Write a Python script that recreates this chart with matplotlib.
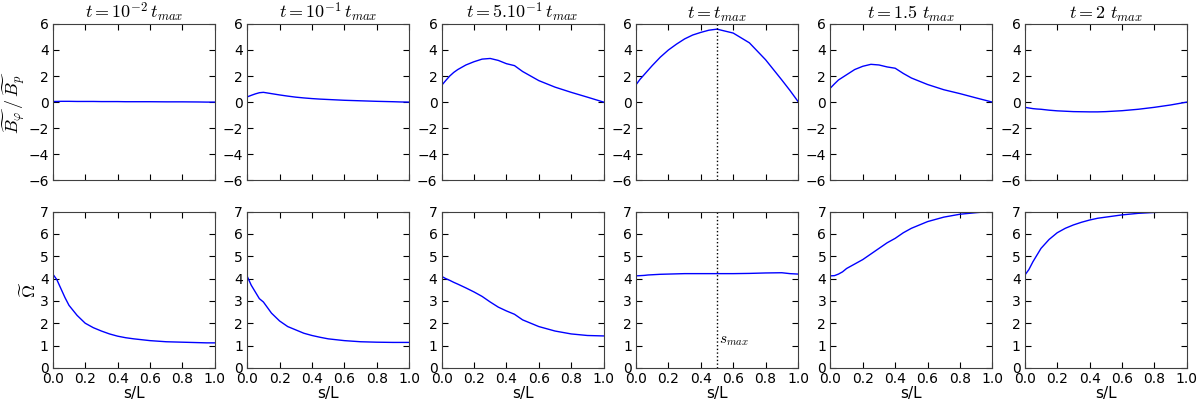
import numpy as np
import matplotlib
matplotlib.use('Agg')
import matplotlib.pyplot as plt

plt.rcParams['mathtext.fontset'] = 'cm'
plt.rcParams['font.size'] = 10

# positions along the loop (s/L)
s = [0, .025, .05, .075, .1, .15, .2, .25, .3, .35, .4, .45, .5, .6, .7, .8, .9, .95, 1.0]

titles = [r'$t=10^{-2}\,t_{max}$', r'$t=10^{-1}\,t_{max}$', r'$t=5.10^{-1}\,t_{max}$',
          r'$t=t_{max}$', r'$t=1.5\ t_{max}$', r'$t=2\ t_{max}$']

# B_phi / B_p
b1 = [0.05, 0.05, 0.06, 0.06, 0.06, 0.05, 0.05, 0.05, 0.04, 0.04, 0.04, 0.03, 0.03, 0.03, 0.02, 0.02, 0.01, 0.0, 0.0]
b2 = [0.4, 0.52, 0.63, 0.72, 0.75, 0.65, 0.55, 0.46, 0.38, 0.32, 0.27, 0.23, 0.2, 0.14, 0.1, 0.06, 0.03, 0.01, 0.0]
b3 = [1.28, 1.65, 2.0, 2.28, 2.5, 2.85, 3.1, 3.3, 3.35, 3.2, 2.95, 2.8, 2.35, 1.65, 1.15, 0.75, 0.38, 0.19, 0.0]
b4 = [1.33, 1.75, 2.1, 2.45, 2.8, 3.45, 4.0, 4.45, 4.85, 5.15, 5.35, 5.52, 5.6, 5.3, 4.55, 3.25, 1.7, 0.9, 0.05]
b5 = [1.08, 1.4, 1.7, 1.9, 2.1, 2.5, 2.75, 2.9, 2.85, 2.7, 2.6, 2.2, 1.85, 1.35, 0.95, 0.65, 0.32, 0.16, 0.0]
b6 = [-0.4, -0.45, -0.5, -0.53, -0.55, -0.62, -0.67, -0.7, -0.73, -0.74, -0.75, -0.75, -0.73, -0.66, -0.55, -0.4, -0.22, -0.11, 0.0]

# Omega
o1 = [4.2, 3.95, 3.55, 3.15, 2.8, 2.35, 2.0, 1.8, 1.65, 1.52, 1.42, 1.35, 1.3, 1.22, 1.17, 1.15, 1.13, 1.12, 1.12]
o2 = [4.1, 3.7, 3.4, 3.1, 2.95, 2.45, 2.1, 1.85, 1.7, 1.55, 1.45, 1.37, 1.3, 1.22, 1.17, 1.15, 1.14, 1.14, 1.14]
o3 = [4.1, 4.0, 3.92, 3.83, 3.75, 3.58, 3.4, 3.2, 2.95, 2.72, 2.55, 2.4, 2.15, 1.85, 1.65, 1.52, 1.45, 1.44, 1.43]
o4 = [4.12, 4.13, 4.14, 4.16, 4.17, 4.19, 4.2, 4.21, 4.22, 4.22, 4.22, 4.22, 4.22, 4.22, 4.23, 4.25, 4.26, 4.22, 4.2]
o5 = [4.12, 4.13, 4.2, 4.3, 4.45, 4.65, 4.85, 5.1, 5.35, 5.6, 5.8, 6.05, 6.25, 6.55, 6.75, 6.88, 6.95, 6.98, 7.0]
o6 = [4.15, 4.4, 4.75, 5.05, 5.35, 5.75, 6.05, 6.25, 6.4, 6.52, 6.62, 6.7, 6.75, 6.85, 6.92, 6.96, 6.98, 6.99, 7.0]

bphi = [b1, b2, b3, b4, b5, b6]
omega = [o1, o2, o3, o4, o5, o6]
s_max = 0.5

fig, axes = plt.subplots(2, 6, figsize=(12, 3.99), dpi=100)
fig.subplots_adjust(left=0.044, right=0.989, top=0.94, bottom=0.078, wspace=0.2, hspace=0.2)

for i in range(6):
    ax = axes[0, i]
    ax.plot(s, bphi[i], color='b', lw=1)
    ax.set_xlim(0, 1)
    ax.set_ylim(-6, 6)
    ax.set_yticks([-6, -4, -2, 0, 2, 4, 6])
    ax.set_xticks([0, 0.2, 0.4, 0.6, 0.8, 1.0])
    ax.set_xticklabels([])
    ax.set_title(titles[i], fontsize=13, pad=2)

    ax = axes[1, i]
    ax.plot(s, omega[i], color='b', lw=1)
    ax.set_xlim(0, 1)
    ax.set_ylim(0, 7)
    ax.set_yticks(range(8))
    ax.set_xticks([0, 0.2, 0.4, 0.6, 0.8, 1.0])
    ax.set_xticklabels(['0.0', '0.2', '0.4', '0.6', '0.8', '1.0'])
    ax.set_xlabel('s/L', fontsize=11, labelpad=0)

for ax in axes.flat:
    ax.tick_params(direction='in', top=True, right=True, length=4, pad=3, labelsize=10)
    for sp in ax.spines.values():
        sp.set_color('#404040')

axes[0, 3].axvline(s_max, color='k', ls=':', lw=1)
axes[1, 3].axvline(s_max, color='k', ls=':', lw=1)
axes[1, 3].text(s_max + 0.01, 1.1, r'$s_{max}$', fontsize=11)

axes[0, 0].set_ylabel(r'$\widetilde{B_\varphi}\,/\,\widetilde{B_p}$', fontsize=13, labelpad=0)
axes[1, 0].set_ylabel(r'$\widetilde{\Omega}$', fontsize=13, labelpad=0)

plt.savefig('out.png', dpi=100)
